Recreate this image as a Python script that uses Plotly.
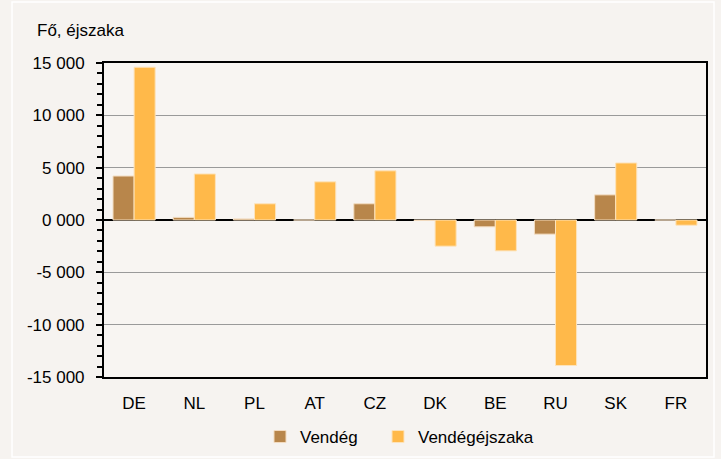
import plotly.graph_objects as go

countries = ["DE", "NL", "PL", "AT", "CZ", "DK", "BE", "RU", "SK", "FR"]
vendeg = [4200, 250, 100, 0, 1550, -50, -650, -1350, 2400, 0]
vendegejszaka = [14600, 4400, 1550, 3650, 4700, -2500, -2950, -13900, 5450, -500]

tickvals = [15000, 10000, 5000, 0, -5000, -10000, -15000]
ticktext = ["15 000", "10 000", "5 000", "0 000", "-5 000", "-10 000", "-15 000"]

FONT = "Liberation Sans, Arial, sans-serif"
FS = 17

fig = go.Figure()
fig.add_trace(go.Bar(x=countries, y=vendeg, name="Vendég", legend="legend",
                     marker=dict(color="#b8864b", line=dict(color="#f3dcc0", width=1))))
fig.add_trace(go.Bar(x=countries, y=vendegejszaka, name="Vendégéjszaka", legend="legend2",
                     marker=dict(color="#ffb94a", line=dict(color="#fde3bb", width=1))))

legend_common = dict(orientation="h", xref="container", yref="container",
                     xanchor="left", y=0.048, yanchor="middle",
                     font=dict(size=FS), itemwidth=30, bgcolor="rgba(0,0,0,0)")

fig.update_layout(
    width=721, height=459,
    paper_bgcolor="#f6f3f0", plot_bgcolor="#f8f5f2",
    margin=dict(l=104, r=15, t=63, b=82, autoexpand=False),
    barmode="group", bargap=0.3, bargroupgap=0,
    font=dict(family=FONT, size=FS, color="#000000"),
    showlegend=True,
    legend=dict(x=260 / 721, **legend_common),
    legend2=dict(x=378 / 721, **legend_common),
)
fig.add_shape(type="rect", xref="paper", yref="paper",
              x0=-0.1528, x1=1.0133, y0=-0.2548, y1=1.194,
              line=dict(color="#ffffff", width=1.5), fillcolor="rgba(0,0,0,0)", layer="below")
fig.add_annotation(text="Fő, éjszaka", xref="paper", yref="paper",
                   x=-0.1146, y=1.105, xanchor="left", yanchor="middle",
                   showarrow=False, font=dict(size=FS))

fig.update_yaxes(range=[-15000, 15000], tickvals=tickvals, ticktext=ticktext,
                 showgrid=True, gridcolor="#9a9a9a", gridwidth=1,
                 zeroline=True, zerolinecolor="#000000", zerolinewidth=1.5,
                 showline=True, linecolor="#000000", linewidth=2, mirror=True,
                 ticks="outside", ticklen=6, tickcolor="#000000", tickwidth=1.5,
                 ticklabelstandoff=8,
                 minor=dict(dtick=1000, ticks="outside", ticklen=5, tickcolor="#000000",
                            tickwidth=1.5, showgrid=False),
                 tickfont=dict(size=FS))
fig.update_xaxes(showline=True, linecolor="#000000", linewidth=2, mirror=True,
                 ticks="", tickfont=dict(size=FS), showgrid=False, ticklabelstandoff=10)

fig.write_html("out.html", config={"displayModeBar": False},
               post_script="document.body.style.margin='0px';")
